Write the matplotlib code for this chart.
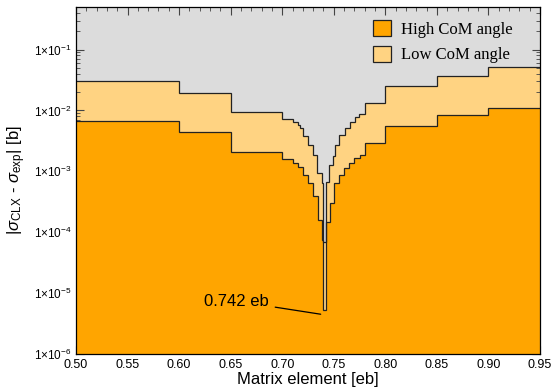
import numpy as np
import matplotlib
matplotlib.use("Agg")
import matplotlib.pyplot as plt
from matplotlib.patches import Patch
from matplotlib.ticker import LogLocator, FuncFormatter, MultipleLocator, NullFormatter

plt.rcParams['font.family'] = ['Liberation Sans', 'DejaVu Sans']
plt.rcParams['mathtext.fontset'] = 'custom'
plt.rcParams['mathtext.rm'] = 'Liberation Sans'
plt.rcParams['mathtext.it'] = 'Liberation Sans:italic'
plt.rcParams['mathtext.bf'] = 'Liberation Sans:bold'

# ---- data ----
# Low CoM angle: step edges and values (upper boundary of light-orange band)
low_edges = [0.50, 0.60, 0.65, 0.70, 0.71, 0.7155, 0.7175, 0.7205, 0.725, 0.730,
             0.7335, 0.7385, 0.7400, 0.7425, 0.7455, 0.749, 0.751, 0.7555, 0.7605,
             0.7655, 0.7705, 0.7745, 0.780, 0.800, 0.850, 0.900, 0.950]
low_vals = [0.030, 0.0195, 0.0093, 0.0073, 0.00645, 0.00583, 0.00515, 0.00375, 0.00274,
            0.00188, 0.00094, 0.00064, 7.0e-5, 6.8e-4, 1.29e-3, 1.76e-3, 2.74e-3, 4.0e-3,
            5.15e-3, 6.45e-3, 7.7e-3, 8.85e-3, 0.0134, 0.0256, 0.0373, 0.051]

# High CoM angle: step edges and values (upper boundary of dark-orange band)
high_edges = [0.50, 0.60, 0.65, 0.70, 0.71, 0.7155, 0.720, 0.725, 0.730, 0.735,
              0.7385, 0.7400, 0.7425, 0.7465, 0.7505, 0.755, 0.760, 0.765, 0.770,
              0.775, 0.780, 0.800, 0.850, 0.900, 0.950]
high_vals = [0.0066, 0.0044, 0.00205, 0.00159, 0.00137, 0.0012, 0.00088, 0.00064,
             0.00039, 1.6e-4, 7.5e-5, 5.3e-6, 1.5e-4, 3.0e-4, 6.5e-4, 8.8e-4, 1.13e-3,
             1.37e-3, 1.66e-3, 1.87e-3, 2.95e-3, 5.6e-3, 8.3e-3, 0.011]

x_ticks = [0.50, 0.55, 0.60, 0.65, 0.70, 0.75, 0.80, 0.85, 0.90, 0.95]
annot_text = "0.742 eb"
annot_xy = (0.7373, 4.5e-6)
annot_text_xy = (0.6865, 7.4e-6)

series_labels = ["High CoM angle", "Low CoM angle"]
c_high = '#FFA500'
c_low = '#FFD382'
c_bg = '#DCDCDC'
c_edge = '#222222'

fig = plt.figure(figsize=(5.56, 3.9), dpi=100)
ax = fig.add_axes([76/556, 1-354/390, (540-76)/556, (354-7)/390])
ax.set_facecolor(c_bg)
ax.set_yscale('log')
ax.set_xlim(0.50, 0.95)
ax.set_ylim(1e-6, 0.5)

base = 1e-8
ax.stairs(low_vals, low_edges, baseline=base, fill=True, color=c_low, zorder=1)
ax.stairs(high_vals, high_edges, baseline=base, fill=True, color=c_high, zorder=2)
ax.stairs(low_vals, low_edges, baseline=None, color=c_edge, lw=0.9, zorder=3)
ax.stairs(high_vals, high_edges, baseline=None, color=c_edge, lw=0.9, zorder=3)

ax.annotate(annot_text, xy=annot_xy, xytext=annot_text_xy, fontsize=12,
            ha='right', va='center',
            arrowprops=dict(arrowstyle='-', color='k', lw=0.9, shrinkA=3, shrinkB=0),
            zorder=5)

ax.set_xticks(x_ticks)
ax.set_xticklabels([f"{v:.2f}" for v in x_ticks])
ax.xaxis.set_minor_locator(MultipleLocator(0.01))
ax.yaxis.set_major_locator(LogLocator(base=10, numticks=20))
ax.yaxis.set_minor_locator(LogLocator(base=10, subs=np.arange(2, 10), numticks=20))
ax.yaxis.set_minor_formatter(NullFormatter())
ax.yaxis.set_major_formatter(FuncFormatter(
    lambda v, p: r'$1{\times}10^{%d}$' % int(round(np.log10(v)))))

ax.tick_params(which='both', direction='in', top=True, right=True, color='#444444')
ax.tick_params(which='major', length=6, width=0.8, labelsize=9)
ax.tick_params(axis='y', which='major', labelsize=8.5, pad=3)
ax.tick_params(which='minor', length=3, width=0.6)
for s in ax.spines.values():
    s.set_linewidth(0.9)
    s.set_zorder(6)

ax.set_xlabel("Matrix element [eb]", fontsize=12, labelpad=1)
ax.set_ylabel(r'$|\sigma_{\rm CLX}$ - $\sigma_{\rm exp}|$ [b]', fontsize=12, labelpad=4)

handles = [Patch(facecolor=c_high, edgecolor=c_edge, lw=0.9),
           Patch(facecolor=c_low, edgecolor=c_edge, lw=0.9)]
leg = ax.legend(handles, series_labels, loc='upper right', frameon=False,
                prop={'family': 'Liberation Serif', 'size': 12},
                handlelength=1.1, handleheight=1.1, handletextpad=0.6,
                labelspacing=0.45, borderaxespad=0.4, bbox_to_anchor=(0.97, 1.0))
leg.set_zorder(7)

fig.savefig("out.png", dpi=100)
